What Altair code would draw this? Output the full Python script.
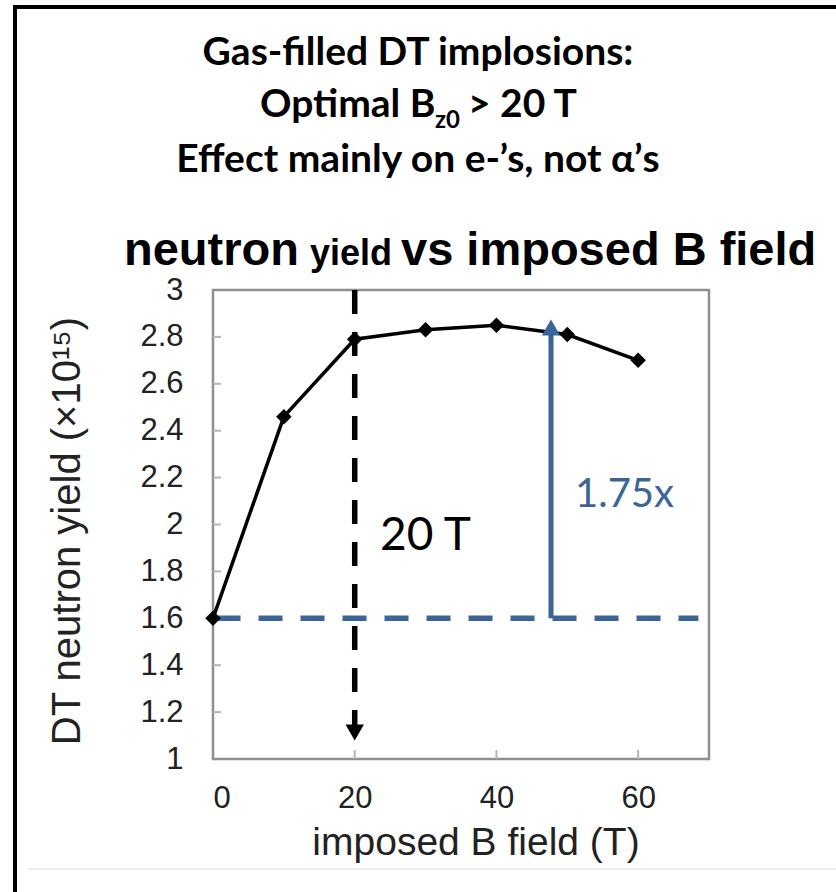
import altair as alt
import pandas as pd

# ---- data ----
b_field = [0, 10, 20, 30, 40, 50, 60]
neutron_yield = [1.60, 2.46, 2.79, 2.83, 2.85, 2.81, 2.70]
x_tick_values = [0, 20, 40, 60]
y_tick_values = [1, 1.2, 1.4, 1.6, 1.8, 2, 2.2, 2.4, 2.6, 2.8, 3]
optimal_b = 20
baseline_yield = 1.6
gain_arrow_x = 47.7
gain_arrow_base = 2.808
gain_arrow_head = 2.840
ref_line_end = 68.5
optimal_arrow_base = 1.136
optimal_arrow_head = 1.113

title_lines = ["Gas-filled DT implosions:", "Optimal B", "z0", "> 20 T",
               "Effect mainly on e-\u2019s, not \u03b1\u2019s"]
plot_title = ["neutron", "yield", "vs imposed B field"]
x_title = "imposed B field (T)"
y_title = "DT neutron yield (\u00d710\u00b9\u2075)"
label_20T = "20 T"
label_gain = "1.75x"

W, H = 496, 469
BLUE = "#3c6499"
AXFONT = "Liberation Sans"
TFONT = "Lato"

xs = alt.Scale(domain=[0, 70], nice=False, zero=False)
ys = alt.Scale(domain=[1, 3], nice=False, zero=False)

df = pd.DataFrame({"b": b_field, "y": neutron_yield})

base = alt.Chart(df)

line = base.mark_line(color="black", strokeWidth=3.5).encode(
    x=alt.X("b:Q", scale=xs,
            axis=alt.Axis(values=x_tick_values, title=None, grid=False, ticks=False,
                          domain=False, labelFont=AXFONT, labelFontSize=31,
                          labelColor="#222", labelPadding=24)),
    y=alt.Y("y:Q", scale=ys,
            axis=alt.Axis(values=y_tick_values, title=None, grid=False, ticks=False,
                          domain=False, labelFont=AXFONT, labelFontSize=31,
                          labelColor="#222", labelPadding=30, format="~g")),
)
pts = base.mark_point(shape="diamond", filled=True, color="black", size=240, opacity=1).encode(
    x=alt.X("b:Q", scale=xs), y=alt.Y("y:Q", scale=ys))

# inside ticks
yt = alt.Chart(pd.DataFrame({"v": y_tick_values[1:-1]})).mark_rule(
    color="#b5b5b5", strokeWidth=2).encode(
    y=alt.Y("v:Q", scale=ys), x=alt.value(0), x2=alt.value(8))
xt = alt.Chart(pd.DataFrame({"v": x_tick_values[1:]})).mark_rule(
    color="#b5b5b5", strokeWidth=2).encode(
    x=alt.X("v:Q", scale=xs), y=alt.value(H), y2=alt.value(H - 9))

# blue dashed baseline
ref = alt.Chart(pd.DataFrame({"x0": [0.5], "x1": [ref_line_end], "y": [baseline_yield]})).mark_rule(
    color=BLUE, strokeWidth=5.5, strokeDash=[24, 18]).encode(
    x=alt.X("x0:Q", scale=xs), x2="x1:Q", y=alt.Y("y:Q", scale=ys))

# blue arrow
gain = alt.Chart(pd.DataFrame({"x": [gain_arrow_x], "y0": [baseline_yield], "y1": [gain_arrow_base]})).mark_rule(
    color=BLUE, strokeWidth=5).encode(
    x=alt.X("x:Q", scale=xs), y=alt.Y("y0:Q", scale=ys), y2="y1:Q")
gain_head = alt.Chart(pd.DataFrame({"x": [gain_arrow_x], "y": [gain_arrow_head]})).mark_point(
    shape="triangle-up", filled=True, color=BLUE, size=340, opacity=1).encode(
    x=alt.X("x:Q", scale=xs), y=alt.Y("y:Q", scale=ys))

# black dashed vertical arrow at 20 T
opt = alt.Chart(pd.DataFrame({"x": [optimal_b], "y0": [3], "y1": [optimal_arrow_base]})).mark_rule(
    color="black", strokeWidth=5.5, strokeDash=[24, 18]).encode(
    x=alt.X("x:Q", scale=xs), y=alt.Y("y0:Q", scale=ys), y2="y1:Q")
opt_head = alt.Chart(pd.DataFrame({"x": [optimal_b], "y": [optimal_arrow_head]})).mark_point(
    shape="triangle-down", filled=True, color="black", size=340, opacity=1).encode(
    x=alt.X("x:Q", scale=xs), y=alt.Y("y:Q", scale=ys))


def label(text, x, y, size, font=AXFONT, weight="normal", color="black",
          align="left", angle=0):
    kw = dict(fontSize=size, font=font, fontWeight=weight, color=color,
              align=align, baseline="alphabetic")
    if angle:
        kw["angle"] = angle
    return alt.Chart(pd.DataFrame({"t": [text]})).mark_text(**kw).encode(
        text="t:N", x=alt.value(x), y=alt.value(y))


# offsets: plot origin is at canvas (213, 290)
OX, OY = 213, 290
texts = [
    label(title_lines[0], 418 - OX, 65 - OY, 39, TFONT, "bold", align="center"),
    label(title_lines[1], 260 - OX, 117 - OY, 39, TFONT, "bold"),
    label(title_lines[2], 435 - OX, 128 - OY, 24, TFONT, "bold"),
    label(title_lines[3], 468 - OX, 117 - OY, 39, TFONT, "bold"),
    label(title_lines[4], 418 - OX, 172 - OY, 39, TFONT, "bold", align="center"),
    label(plot_title[0], 124 - OX, 265 - OY, 47, AXFONT, "bold"),
    label(plot_title[1], 310 - OX, 265 - OY, 36, AXFONT, "bold"),
    label(plot_title[2], 401 - OX, 265 - OY, 47, AXFONT, "bold"),
    label(x_title, 476 - OX, 855 - OY, 39, AXFONT, color="#222", align="center"),
    label(y_title, 80 - OX, 531 - OY, 40, AXFONT, color="#222", align="center", angle=270),
    label(label_20T, 380 - OX, 550 - OY, 46, TFONT),
    label(label_gain, 575 - OX, 507 - OY, 40, TFONT, color=BLUE),
]

# picture frame
frame_left = alt.Chart(pd.DataFrame({"t": [0]})).mark_rule(color="black", strokeWidth=4).encode(
    x=alt.value(15 - OX), y=alt.value(5 - OY), y2=alt.value(892 - OY))
frame_top = alt.Chart(pd.DataFrame({"t": [0]})).mark_rule(color="black", strokeWidth=4).encode(
    x=alt.value(13 - OX), x2=alt.value(836 - OX), y=alt.value(7 - OY))
frame_bottom = alt.Chart(pd.DataFrame({"t": [0]})).mark_rule(color="#ececec", strokeWidth=2).encode(
    x=alt.value(28 - OX), x2=alt.value(836 - OX), y=alt.value(869 - OY))

chart = alt.layer(
    line, yt, xt, ref, gain, gain_head, opt, opt_head, pts,
    *texts, frame_left, frame_top, frame_bottom
).properties(
    width=W, height=H,
    autosize=alt.AutoSizeParams(type="none"),
    padding={"left": OX, "top": OY, "right": 836 - OX - W, "bottom": 892 - OY - H},
    background="white",
).configure_view(stroke="#8f8f8f", strokeWidth=2.5)

chart.save("out.html", embed_options={"renderer": "svg", "actions": False})
